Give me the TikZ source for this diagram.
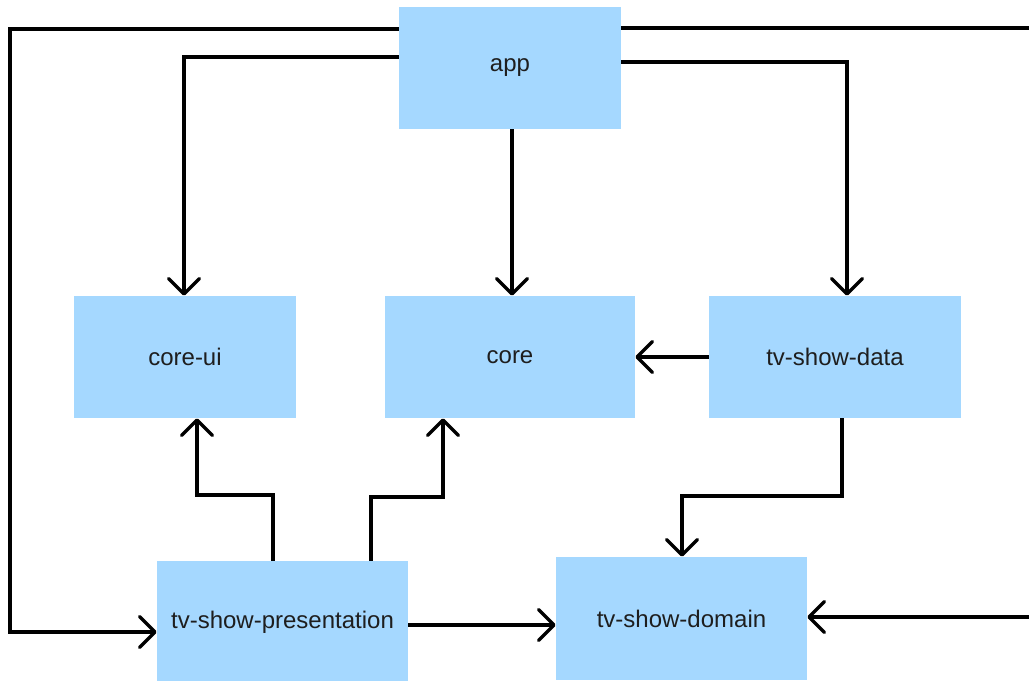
\documentclass[tikz,border=0pt]{standalone}
\usepackage{fontspec}
\setmainfont{Liberation Sans}
\usetikzlibrary{arrows.meta}
\definecolor{boxblue}{HTML}{A5D8FF}
\definecolor{txt}{HTML}{1E1E1E}
\begin{document}
\begin{tikzpicture}[x=0.75pt,y=-0.75pt,
  mod/.style={fill=boxblue,draw=none,text=txt,font=\fontsize{18pt}{21pt}\selectfont,inner sep=0pt,anchor=center},
  arr/.style={line width=2.6pt,draw=black,-{Straight Barb[length=11.5pt,width=23pt,line width=2.6pt,round]}}]
\useasboundingbox (0,0) rectangle (1029,681);
\clip (0,0) rectangle (1029,681);
\fill[white] (0,0) rectangle (1029,681);
\node[mod,minimum width=166.5pt,minimum height=91.5pt] (app) at (510,68) {app};
\node[mod,minimum width=166.5pt,minimum height=91.5pt] (coreui) at (185,357) {core-ui};
\node[mod,minimum width=187.5pt,minimum height=91.5pt] (core) at (510,357) {core};
\node[mod,minimum width=189pt,minimum height=91.5pt] (data) at (835,357) {tv-show-data};
\node[mod,minimum width=188.25pt,minimum height=91.5pt] (pres) at (282.5,622) {tv-show-presentation};
\node[mod,minimum width=188.25pt,minimum height=92.25pt] (dom) at (681.5,618.5) {tv-show-domain};
\coordinate (lft) at (10,29);
\coordinate (rgt) at (1045,28);
% app -> presentation
\draw[arr] (app.west |- lft) -- (lft) |- (pres.west |- 0,632);
% app -> core-ui
\draw[arr] (app.west |- 0,57) -| (coreui.north -| 184,0);
% app -> core
\draw[arr] (app.south -| 512,0) -- (core.north -| 512,0);
% app -> data
\draw[arr] (app.east |- 0,62) -| (data.north -| 847,0);
% app -> domain (via right edge)
\draw[arr] (app.east |- rgt) -- (rgt) |- (dom.east |- 0,617);
% data -> core
\draw[arr] (data.west |- 0,357) -- (core.east |- 0,357);
% data -> domain
\draw[arr] (data.south -| 842,0) -- (842,496) -| (dom.north -| 682,0);
% pres -> core-ui
\draw[arr] (pres.north -| 273,0) -- (273,495) -| (coreui.south -| 197,0);
% pres -> core
\draw[arr] (pres.north -| 371,0) -- (371,497) -| (core.south -| 443,0);
% pres -> domain
\draw[arr] (pres.east |- 0,625) -- (dom.west |- 0,625);
\end{tikzpicture}
\end{document}
